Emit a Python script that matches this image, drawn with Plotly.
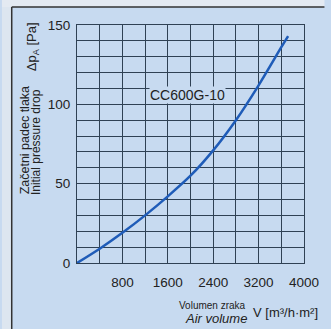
import plotly.graph_objects as go

volume = [0, 400, 800, 1200, 1600, 2000, 2400, 2800, 3200, 3600, 3720]
pressure = [0, 9, 19, 30, 42, 55, 71, 90, 112, 136, 143]
x_ticks = [800, 1600, 2400, 3200, 4000]
x_ticklabels = ["800", "1600", "2400", "3200", "4000"]
y_ticks = [0, 50, 100, 150]
y_ticklabels = ["0", "50", "100", "150"]
curve_label = "CC600G-10"

W, H = 331, 329
L, R, T, B = 77, 21, 25, 66
pw, ph = W - L - R, H - T - B

def px(x):
    return (x - L) / pw

def py(y):
    return (H - B - y) / ph

bg = "#c7daf0"
grid = "#2f4154"
txt = "#222222"

fig = go.Figure()
fig.add_trace(go.Scatter(x=volume, y=pressure, mode="lines",
                         line=dict(color="#1f5cb8", width=2.5, shape="spline", smoothing=0.8),
                         hoverinfo="skip", showlegend=False))

fig.update_layout(
    width=W, height=H,
    margin=dict(l=L, r=R, t=T, b=B),
    paper_bgcolor=bg, plot_bgcolor=bg,
    font=dict(family="Liberation Sans, Arial, sans-serif", color=txt),
    xaxis=dict(range=[0, 4000], tickvals=x_ticks, ticktext=x_ticklabels,
               showgrid=True, gridcolor=grid, gridwidth=1.1,
               minor=dict(dtick=400, tick0=0, showgrid=True, gridcolor=grid, gridwidth=1.1),
               showline=True, linecolor=grid, linewidth=1.1, mirror=True,
               zeroline=False, ticks="", ticklabelstandoff=7,
               tickfont=dict(size=13.5, color=txt)),
    yaxis=dict(range=[0, 150], tickvals=y_ticks, ticktext=y_ticklabels,
               showgrid=True, gridcolor=grid, gridwidth=1.1,
               minor=dict(dtick=10, tick0=0, showgrid=True, gridcolor=grid, gridwidth=1.1),
               showline=True, linecolor=grid, linewidth=1.1, mirror=True,
               zeroline=False, ticks="", ticklabelstandoff=3,
               tickfont=dict(size=13.5, color=txt)),
)

fig.add_annotation(x=1940, y=106, xref="x", yref="y", text=curve_label, showarrow=False,
                   font=dict(size=14, color=txt), bgcolor=bg, borderpad=0)

ann = [
    ("Začetni padec tlaka", 24, 140, 12.5),
    ("Initial pressure drop", 35, 142, 12),
]
for t, x, y, s in ann:
    fig.add_annotation(x=px(x), y=py(y), xref="paper", yref="paper", text=t,
                       textangle=-90, showarrow=False, xanchor="center", yanchor="middle",
                       font=dict(size=s, color=txt))
fig.add_annotation(x=px(31), y=py(47), xref="paper", yref="paper",
                   text="Δp<sub>A</sub> [Pa]", textangle=-90, showarrow=False,
                   xanchor="center", yanchor="middle", font=dict(size=13, color=txt))

fig.add_annotation(x=px(216), y=py(305), xref="paper", yref="paper", text="Volumen zraka",
                   showarrow=False, xanchor="center", yanchor="middle", font=dict(size=10, color=txt))
fig.add_annotation(x=px(220), y=py(318), xref="paper", yref="paper", text="<i>Air volume</i>",
                   showarrow=False, xanchor="center", yanchor="middle", font=dict(size=13, color=txt))
fig.add_annotation(x=px(291), y=py(312), xref="paper", yref="paper", text="V [m³/h·m²]",
                   showarrow=False, xanchor="center", yanchor="middle", font=dict(size=13, color=txt))

# outer frame
fig.add_shape(type="rect", xref="paper", yref="paper", x0=px(0), x1=px(10), y0=py(H), y1=py(0),
              fillcolor="#dde6f0", line=dict(width=0), layer="below")
fig.add_shape(type="rect", xref="paper", yref="paper", x0=px(0), x1=px(W), y0=py(7), y1=py(0),
              fillcolor="#e4eaf2", line=dict(width=0), layer="below")
fig.add_shape(type="line", xref="paper", yref="paper", x0=px(10), x1=px(10), y0=py(7), y1=py(H),
              line=dict(color="#333", width=1.5))
fig.add_shape(type="line", xref="paper", yref="paper", x0=px(10), x1=px(W), y0=py(7), y1=py(7),
              line=dict(color="#333", width=1.5))

fig.write_html("out.html", config={"displayModeBar": False},
               post_script="document.body.style.margin='0';document.body.style.overflow='hidden';")
